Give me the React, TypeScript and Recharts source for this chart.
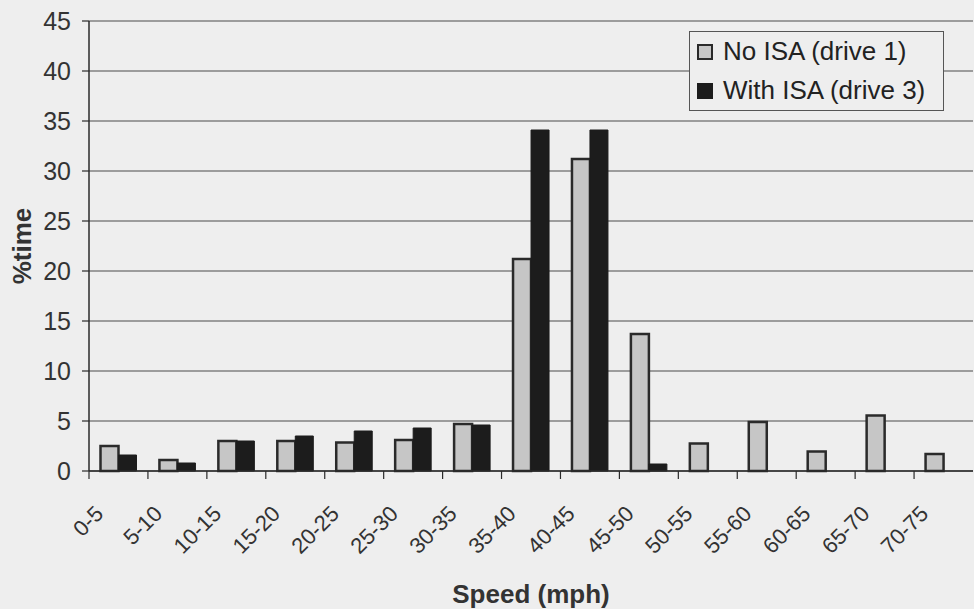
import { Bar, BarChart, CartesianGrid, Label, Legend, XAxis, YAxis } from 'recharts';

const speedBands = [
  '0-5', '5-10', '10-15', '15-20', '20-25', '25-30', '30-35', '35-40',
  '40-45', '45-50', '50-55', '55-60', '60-65', '65-70', '70-75',
];
const noIsaDrive1 = [2.5, 1.1, 3.0, 3.0, 2.85, 3.1, 4.7, 21.2, 31.2, 13.7, 2.75, 4.9, 1.95, 5.55, 1.7];
const withIsaDrive3 = [1.6, 0.8, 3.0, 3.5, 4.0, 4.3, 4.6, 34.1, 34.1, 0.7, 0, 0, 0, 0, 0];
const yTicks = [0, 5, 10, 15, 20, 25, 30, 35, 40, 45];

const chartData = speedBands.map((band, i) => ({
  band,
  noIsa: noIsaDrive1[i],
  withIsa: withIsaDrive3[i],
}));

const FONT = '"Liberation Sans", Arial, sans-serif';
const BG = '#eeeeee';
const INK = '#2a2a2a';

function SpeedTick(props: any) {
  const { x, y, payload } = props;
  const half = payload?.offset || 29.47;
  return (
    <g>
      <line x1={x - half} x2={x - half} y1={y} y2={y + 8} stroke={INK} strokeWidth={1.2} />
      <text
        transform={`translate(${x - 25},${y + 33}) rotate(-45)`}
        textAnchor="end"
        dy="0.72em"
        fontSize={22}
        fontFamily={FONT}
        fill="#333"
      >
        {payload.value}
      </text>
    </g>
  );
}

function LegendBox() {
  const rows = [
    { name: 'No ISA (drive 1)', fill: '#c6c6c6', stroke: INK },
    { name: 'With ISA (drive 3)', fill: '#1c1c1c', stroke: '#1c1c1c' },
  ];
  return (
    <div
      style={{
        width: 255,
        height: 80,
        boxSizing: 'border-box',
        border: '1px solid #555',
        background: BG,
        fontFamily: FONT,
        fontSize: 26,
        color: '#222',
      }}
    >
      {rows.map((r) => (
        <div key={r.name} style={{ height: 39, display: 'flex', alignItems: 'center', paddingLeft: 7 }}>
          <span
            style={{
              width: 16,
              height: 16,
              boxSizing: 'border-box',
              background: r.fill,
              border: `2px solid ${r.stroke}`,
              marginRight: 10,
              display: 'inline-block',
            }}
          />
          <span style={{ whiteSpace: 'nowrap' }}>{r.name}</span>
        </div>
      ))}
    </div>
  );
}

export default function App() {
  return (
    <div style={{ position: 'absolute', left: 0, top: 0, width: 974, height: 609, background: BG }}>
      <BarChart
        width={974}
        height={609}
        data={chartData}
        margin={{ top: 21, right: 1, bottom: 0, left: 0 }}
        barCategoryGap={11.5}
        barGap={0}
      >
        <CartesianGrid vertical={false} stroke="#4a4a4a" strokeWidth={1.2} />
        <XAxis
          dataKey="band"
          height={138}
          interval={0}
          tickLine={false}
          tickSize={0}
          tickMargin={0}
          axisLine={{ stroke: INK, strokeWidth: 1.5 }}
          tick={<SpeedTick />}
        >
          <Label
            value="Speed (mph)"
            position="insideBottom"
            offset={6}
            style={{ fontFamily: FONT, fontSize: 26, fontWeight: 'bold', fill: '#333' }}
          />
        </XAxis>
        <YAxis
          width={89}
          domain={[0, 45]}
          ticks={yTicks}
          interval={0}
          tickSize={7}
          tickMargin={11}
          axisLine={{ stroke: INK, strokeWidth: 1.5 }}
          tickLine={{ stroke: INK, strokeWidth: 1.2 }}
          tick={{ fontSize: 25, fontFamily: FONT, fill: '#333' }}
        >
          <Label
            content={(p: any) => {
              const vb = p.viewBox || { x: 0, y: 21, width: 89, height: 450 };
              const cx = vb.x + 22;
              const cy = vb.y + vb.height / 2;
              return (
                <text
                  x={cx}
                  y={cy}
                  transform={`rotate(-90, ${cx}, ${cy})`}
                  textAnchor="middle"
                  dominantBaseline="central"
                  fontFamily={FONT}
                  fontSize={26}
                  fontWeight="bold"
                  fill="#333"
                >
                  %time
                </text>
              );
            }}
          />
        </YAxis>
        <Legend
          layout="vertical"
          align="center"
          verticalAlign="middle"
          content={() => <LegendBox />}
          wrapperStyle={{ position: 'absolute', left: 689, top: 31, width: 255, height: 80 }}
        />
        <Bar
          dataKey="noIsa"
          name="No ISA (drive 1)"
          fill="#c6c6c6"
          stroke={INK}
          strokeWidth={2.5}
          isAnimationActive={false}
        />
        <Bar
          dataKey="withIsa"
          name="With ISA (drive 3)"
          fill="#1c1c1c"
          stroke="#1c1c1c"
          strokeWidth={1}
          isAnimationActive={false}
        />
      </BarChart>
    </div>
  );
}
